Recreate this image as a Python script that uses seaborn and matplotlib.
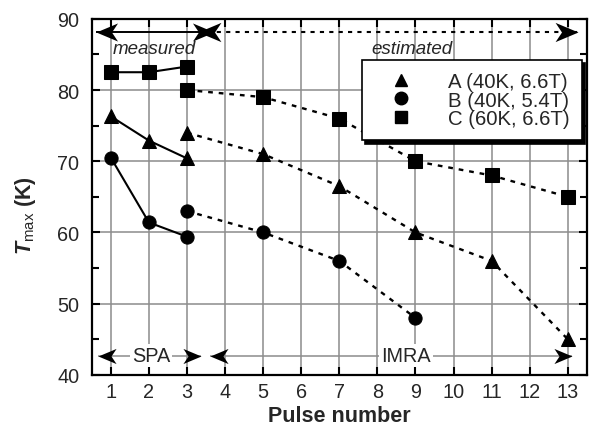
import matplotlib
matplotlib.use("Agg")
import matplotlib.pyplot as plt
import seaborn as sns
import pandas as pd
from matplotlib.lines import Line2D
from matplotlib.path import Path

# Pulse numbers and peak temperatures (K)
a_meas_x = [1, 2, 3]
a_meas_y = [76.3, 72.9, 70.4]
a_est_x = [3, 5, 7, 9, 11, 13]
a_est_y = [74.0, 71.0, 66.5, 60.0, 56.0, 45.0]

b_meas_x = [1, 2, 3]
b_meas_y = [70.5, 61.4, 59.4]
b_est_x = [3, 5, 7, 9]
b_est_y = [63.0, 60.0, 56.0, 48.0]

c_meas_x = [1, 2, 3]
c_meas_y = [82.5, 82.5, 83.3]
c_est_x = [3, 5, 7, 9, 11, 13]
c_est_y = [80.0, 79.0, 76.0, 70.0, 68.0, 65.0]

series_labels = ["A (40K, 6.6T)", "B (40K, 5.4T)", "C (60K, 6.6T)"]
x_ticks = list(range(1, 14))

sns.set_theme(style="ticks")
plt.rcParams["font.family"] = ["Liberation Sans", "DejaVu Sans"]
plt.rcParams["mathtext.fontset"] = "custom"
plt.rcParams["mathtext.rm"] = "Liberation Sans"
plt.rcParams["mathtext.bf"] = "Liberation Sans:bold"
plt.rcParams["mathtext.it"] = "Liberation Sans:italic:bold"

fig, ax = plt.subplots(figsize=(6.0, 4.31), dpi=100)
fig.subplots_adjust(left=0.153, right=0.978, top=0.954, bottom=0.128)

frames = []
for name, mx, my, ex, ey in [
    ("A", a_meas_x, a_meas_y, a_est_x, a_est_y),
    ("B", b_meas_x, b_meas_y, b_est_x, b_est_y),
    ("C", c_meas_x, c_meas_y, c_est_x, c_est_y),
]:
    frames.append(pd.DataFrame({"pulse": mx, "T": my, "set": name, "kind": "measured"}))
    frames.append(pd.DataFrame({"pulse": ex, "T": ey, "set": name, "kind": "estimated"}))
df = pd.concat(frames, ignore_index=True)

markers = {"A": "^", "B": "o", "C": "s"}
msizes = {"A": 10, "B": 9.5, "C": 9.5}
for (name, kind), sub in df.groupby(["set", "kind"]):
    sns.lineplot(
        data=sub, x="pulse", y="T", ax=ax, color="black",
        linewidth=1.5 if kind == "measured" else 1.7,
        linestyle="-" if kind == "measured" else (0, (2, 2.5)),
        marker=markers[name], markersize=msizes[name],
        markeredgecolor="black", markerfacecolor="black",
        sort=True, estimator=None, legend=False, zorder=4,
    )

ax.set_xlim(0.5, 13.5)
ax.set_ylim(40, 90)
ax.set_xticks(x_ticks)
ax.set_yticks([40, 50, 60, 70, 80, 90])
ax.set_yticks([45, 55, 65, 75, 85], minor=True)
ax.grid(True, which="major", color="#8c8c8c", linewidth=1.1)
ax.set_axisbelow(True)
ax.tick_params(which="both", direction="in", top=True, right=True,
               width=1.5, color="black", labelsize=14.3)
ax.tick_params(axis="x", pad=5)
ax.tick_params(axis="y", pad=9)
ax.tick_params(which="major", length=6)
ax.tick_params(which="minor", length=5)
for s in ax.spines.values():
    s.set_linewidth(1.6)
    s.set_color("black")

ax.set_xlabel("Pulse number", fontsize=15.5, fontweight="bold", labelpad=3)
ax.set_ylabel("")
fig.text(0.042, 0.5, r"$T_{\mathrm{max}}$ (K)", fontweight="bold",
         rotation=90, ha="center", va="center", fontsize=15.5)

# notched arrowheads pointing right / left, tip at the marker origin
head_r = Path([(0, 0), (-1, 0.42), (-0.72, 0), (-1, -0.42), (0, 0)],
              [Path.MOVETO, Path.LINETO, Path.LINETO, Path.LINETO, Path.CLOSEPOLY])
head_l = Path([(0, 0), (1, 0.42), (0.72, 0), (1, -0.42), (0, 0)],
              [Path.MOVETO, Path.LINETO, Path.LINETO, Path.LINETO, Path.CLOSEPOLY])


def range_arrow(x0, x1, y, color, lw, ls, head_pts):
    ax.plot([x0, x1], [y, y], color=color, lw=lw, ls=ls, zorder=5,
            solid_capstyle="butt")
    ax.plot([x0], [y], marker=head_l, markersize=head_pts, color="black",
            markeredgewidth=0, zorder=6)
    ax.plot([x1], [y], marker=head_r, markersize=head_pts, color="black",
            markeredgewidth=0, zorder=6)


# measured / estimated ranges along the top
range_arrow(0.62, 3.7, 88.2, "black", 1.4, "-", 31)
range_arrow(3.3, 13.26, 88.2, "black", 1.5, (0, (2, 2.5)), 33)
ax.text(2.15, 85.8, "measured", style="italic", fontsize=13.5,
        ha="center", va="center", zorder=6)
ax.text(8.9, 85.8, "estimated", style="italic", fontsize=13.5,
        ha="center", va="center", zorder=6)

# SPA / IMRA ranges along the bottom
range_arrow(0.66, 3.36, 42.7, "#8c8c8c", 1.1, "-", 26)
range_arrow(3.6, 13.1, 42.7, "#8c8c8c", 1.1, "-", 26)
ax.text(2.05, 42.7, "SPA", fontsize=14.3, ha="center", va="center", zorder=7,
        bbox=dict(facecolor="white", edgecolor="none", pad=1.5))
ax.text(8.75, 42.7, "IMRA", fontsize=14.3, ha="center", va="center", zorder=7,
        bbox=dict(facecolor="white", edgecolor="none", pad=1.5))

handles = [Line2D([], [], linestyle="none", marker=markers[k], markersize=9,
                  color="black") for k in ["A", "B", "C"]]
leg = ax.legend(handles, series_labels, loc="upper right",
                bbox_to_anchor=(0.99, 0.885), frameon=True, fancybox=False,
                shadow={"color": "black", "alpha": 1.0, "ox": 2.2, "oy": -2.2},
                edgecolor="black", fontsize=14.7, handletextpad=1.0,
                borderpad=0.6, labelspacing=-0.02, handlelength=2.6,
                borderaxespad=0)
leg.get_frame().set_linewidth(1.2)
leg.set_zorder(8)

fig.savefig("out.png", dpi=100)
